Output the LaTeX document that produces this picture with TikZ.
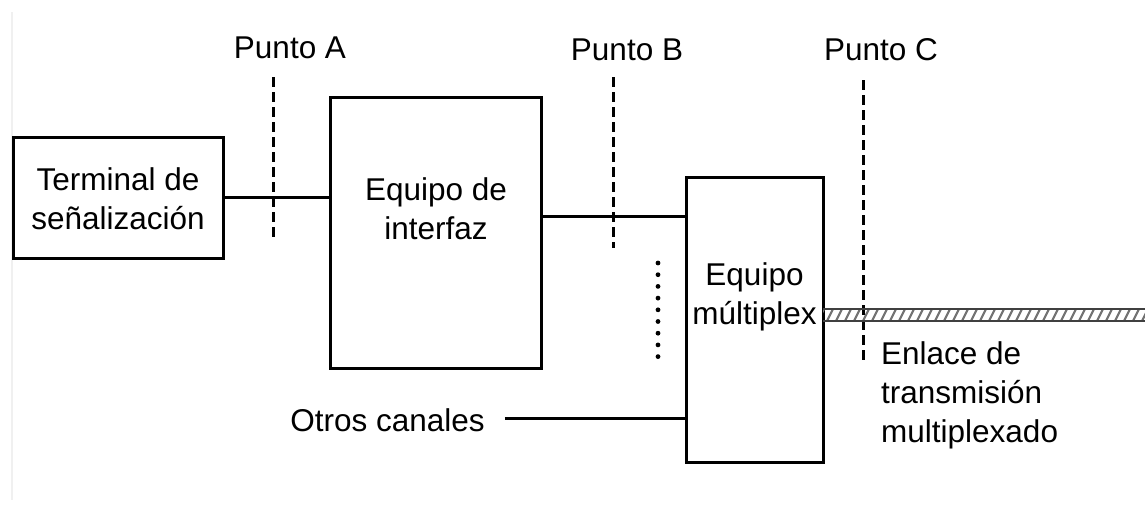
\documentclass[tikz,border=0pt]{standalone}
\usepackage{fontspec}
\setmainfont{Liberation Sans}
\usepackage{tikz}
\usetikzlibrary{positioning,calc}
\tikzstyle{bloque} = [draw,line width=3pt,inner sep=0pt]
\tikzstyle{texto} = [inner sep=0pt,align=center,font=\fontsize{31.5}{39}\selectfont]
\tikzstyle{linea} = [line width=3pt]
\tikzstyle{corte} = [line width=3pt,dash pattern=on 10pt off 5pt]

\begin{document}
\begin{tikzpicture}[x=1pt,y=-1pt]
      \useasboundingbox(0,0)rectangle(1145,506);
      \draw[gray!12,line width=1.5pt](12,12)--(12,500);
      \node[bloque,minimum width=210pt,minimum height=121pt](term)at(118,197.5){};
      \node[texto](tterm)at(118,199){Terminal de\\señalización};
      \node[bloque,minimum width=211pt,minimum height=271pt](intf)at(435.5,232.5){};
      \node[texto](tintf)at(436,209){Equipo de\\interfaz};
      \node[bloque,minimum width=137pt,minimum height=285pt](mux)at(754.5,319.5){};
      \node[texto](tmux)at(754.5,297){Equipo\\múltiplex};
      \node[texto](otros)at(387.5,420){Otros canales};
      \node[texto,align=left,anchor=north west](enlace)at(881,341){Enlace de\\transmisión\\multiplexado};
      \node[texto](pA)at(290,48){Punto A};
      \node[texto](pB)at(627,50){Punto B};
      \node[texto](pC)at(881,50){Punto C};
      \coordinate(b1)at(541,216);
      \coordinate(c1)at(823,315);
      \coordinate(fin)at(1145,315);
      \draw[linea](term.east)--(term.east-|intf.west);
      \draw[linea](b1)--(b1-|mux.west);
      \draw[linea]($(otros.east)+(20,-2)$)--($(otros.east-|mux.west)+(0,-2)$);
      \draw[corte](273,77)--(273,240);
      \draw[corte](613,77)--(613,248);
      \draw[corte](863,80)--(863,360);
      \foreach \y in {0,...,8}\fill(658,263+11.7*\y)circle(2.4pt);
      \begin{scope}
        \clip($(c1)+(0,-6)$)rectangle($(fin)+(0,6)$);
        \foreach \x in {818,827,...,1150}\draw[black!55,line width=2.2pt](\x,321)--(\x+6,309);
      \end{scope}
      \draw[black!75,line width=1.6pt]($(c1)+(0,-6)$)--($(fin)+(0,-6)$)($(c1)+(0,6)$)--($(fin)+(0,6)$);
    \end{tikzpicture}
\end{document}
